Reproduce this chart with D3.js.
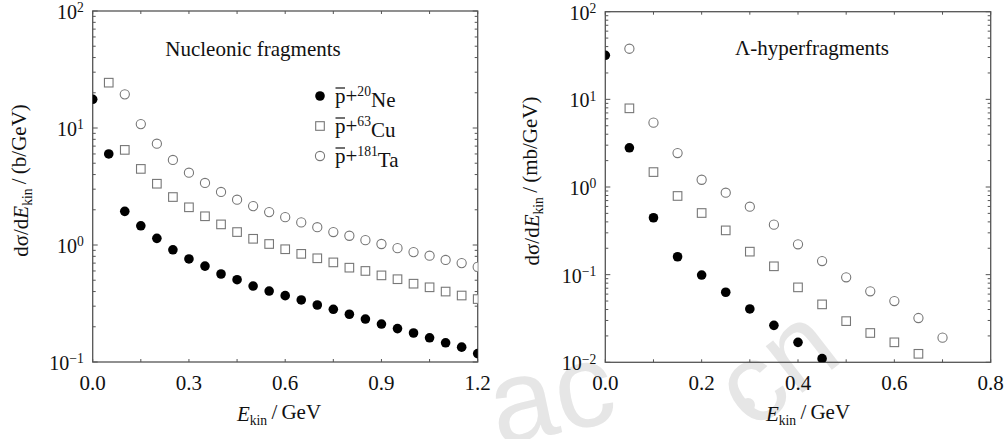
<!DOCTYPE html>
<html lang="en">
<head>
    <meta charset="UTF-8">
    <title>Fragment spectra</title>
    <script src="https://d3js.org/d3.v7.min.js"></script>
    <style>
        body { margin: 0; background: #fff; }
        svg text { font-family: "Liberation Serif", "Times New Roman", serif; fill: #111; }
    </style>
</head>
<body>
    <div id="chart"></div>
    <script>
        // x values (GeV)
        const ekinLeft = d3.range(0, 25).map(i => +(i * 0.05).toFixed(2));
        const ekinRight = d3.range(0, 15).map(i => +(i * 0.05).toFixed(2));

        // Nucleonic fragments, b/GeV
        const nucNe = [17.6, 6.0, 1.94, 1.46, 1.14, 0.91, 0.76, 0.66, 0.565, 0.505, 0.446, 0.404, 0.369,
            0.339, 0.307, 0.282, 0.256, 0.233, 0.211, 0.193, 0.177, 0.161, 0.146, 0.134, 0.118];
        const nucCu = [null, 24.4, 6.5, 4.47, 3.34, 2.57, 2.10, 1.76, 1.50, 1.29, 1.13, 1.02, 0.92,
            0.84, 0.77, 0.71, 0.64, 0.60, 0.55, 0.51, 0.467, 0.435, 0.40, 0.37, 0.345];
        const nucTa = [null, null, 19.4, 10.8, 7.34, 5.33, 4.15, 3.39, 2.84, 2.44, 2.15, 1.91, 1.73,
            1.56, 1.42, 1.29, 1.20, 1.10, 1.02, 0.94, 0.87, 0.81, 0.745, 0.70, 0.65];

        // Lambda-hyperfragments, mb/GeV
        const hypNe = [31.8, 2.8, 0.446, 0.160, 0.099, 0.063, 0.0406, 0.0264, 0.0169, 0.011,
            null, null, null, null, null];
        const hypCu = [null, 7.9, 1.48, 0.79, 0.505, 0.32, 0.183, 0.1245, 0.0716, 0.0458, 0.0295,
            0.0216, 0.0169, 0.0125, null];
        const hypTa = [null, 37.8, 5.42, 2.44, 1.21, 0.861, 0.596, 0.372, 0.222, 0.143, 0.0933,
            0.0646, 0.050, 0.032, 0.0191];

        const legendLabels = [["20", "Ne"], ["63", "Cu"], ["181", "Ta"]];
        const leftXTicks = [0, 0.3, 0.6, 0.9, 1.2];
        const rightXTicks = [0, 0.2, 0.4, 0.6, 0.8];

        const W = 1006, H = 439;
        const svg = d3.select("#chart").append("svg")
            .attr("width", W).attr("height", H);

        const frameColor = "#555";
        const openColor = "#777";

        // faint site watermark (drawn first so it sits underneath)
        const wm = svg.append("g");
        wm.append("text").attr("transform", "translate(498,446) rotate(-12)")
            .style("font-family", "Liberation Sans, sans-serif").style("font-size", "118px")
            .style("fill", "#e6e6e6").text("ac");
        wm.append("circle").attr("cx", 748).attr("cy", 405).attr("r", 7).attr("fill", "#e6e6e6");
        wm.append("text").attr("transform", "translate(752,432) rotate(-38)")
            .style("font-family", "Liberation Sans, sans-serif").style("font-size", "112px")
            .style("fill", "#e6e6e6").text("cn");

        function supLabel(sel, base, exp) {
            sel.append("tspan").text(base);
            sel.append("tspan").attr("dy", "-0.5em").style("font-size", "0.68em").text(exp);
        }

        function drawPanel(opt) {
            const x = d3.scaleLinear().domain(opt.xDomain).range([opt.x0, opt.x1]);
            const y = d3.scaleLog().domain(opt.yDomain).range([opt.y1, opt.y0]);
            const g = svg.append("g");

            const clipId = "clip" + opt.id;
            svg.append("clipPath").attr("id", clipId)
                .append("rect")
                .attr("x", opt.x0).attr("y", opt.y0)
                .attr("width", opt.x1 - opt.x0).attr("height", opt.y1 - opt.y0);

            // x ticks (top and bottom, inward)
            const xt = d3.range(opt.xDomain[0], opt.xDomain[1] + 1e-9, opt.xMinorStep);
            xt.forEach(v => {
                g.append("line").attr("x1", x(v)).attr("x2", x(v))
                    .attr("y1", opt.y1).attr("y2", opt.y1 - 3)
                    .attr("stroke", frameColor).attr("stroke-width", 1);
                g.append("line").attr("x1", x(v)).attr("x2", x(v))
                    .attr("y1", opt.y0).attr("y2", opt.y0 + 3)
                    .attr("stroke", frameColor).attr("stroke-width", 1);
            });

            // y log ticks (left and right, inward)
            const lo = Math.log10(opt.yDomain[0]), hi = Math.log10(opt.yDomain[1]);
            for (let e = lo; e <= hi; e++) {
                for (let m = 1; m <= 9; m++) {
                    const v = m * Math.pow(10, e);
                    if (v > opt.yDomain[1] * 1.0001) break;
                    const len = m === 1 ? 5 : 3;
                    g.append("line").attr("x1", opt.x0).attr("x2", opt.x0 + len)
                        .attr("y1", y(v)).attr("y2", y(v))
                        .attr("stroke", frameColor).attr("stroke-width", 1);
                    g.append("line").attr("x1", opt.x1).attr("x2", opt.x1 - len)
                        .attr("y1", y(v)).attr("y2", y(v))
                        .attr("stroke", frameColor).attr("stroke-width", 1);
                }
                const t = g.append("text")
                    .attr("x", opt.x0 - 9).attr("y", y(Math.pow(10, e)) + 8)
                    .attr("text-anchor", "end").style("font-size", "20px");
                supLabel(t, "10", e < 0 ? "\u2212" + (-e) : String(e));
            }

            // x tick labels
            opt.xTicks.forEach(v => {
                g.append("text").attr("x", x(v)).attr("y", opt.y1 + 28)
                    .attr("text-anchor", "middle").style("font-size", "21px")
                    .text(v.toFixed(1));
            });

            // frame
            g.append("rect").attr("x", opt.x0).attr("y", opt.y0)
                .attr("width", opt.x1 - opt.x0).attr("height", opt.y1 - opt.y0)
                .attr("fill", "none").attr("stroke", frameColor).attr("stroke-width", 1.3);

            // data
            const pts = g.append("g").attr("clip-path", `url(#${clipId})`);
            const mk = (vals) => opt.xs.map((xv, i) => ({ x: xv, v: vals[i] })).filter(d => d.v != null);

            pts.selectAll(null).data(mk(opt.ta)).join("circle")
                .attr("cx", d => x(d.x)).attr("cy", d => y(d.v)).attr("r", 4.6)
                .attr("fill", "#fff").attr("stroke", openColor).attr("stroke-width", 1.1);
            pts.selectAll(null).data(mk(opt.cu)).join("rect")
                .attr("x", d => x(d.x) - 4.3).attr("y", d => y(d.v) - 4.3)
                .attr("width", 8.6).attr("height", 8.6)
                .attr("fill", "#fff").attr("stroke", openColor).attr("stroke-width", 1.1);
            pts.selectAll(null).data(mk(opt.ne)).join("circle")
                .attr("cx", d => x(d.x)).attr("cy", d => y(d.v)).attr("r", 4.8)
                .attr("fill", "#000");

            // title inside panel
            g.append("text").attr("x", opt.titleX).attr("y", opt.titleY)
                .attr("text-anchor", "middle").style("font-size", "21px").text(opt.title);

            // x axis label
            const xl = g.append("text").attr("x", opt.xLabelX).attr("y", 421)
                .attr("text-anchor", "middle").style("font-size", "21px");
            xl.append("tspan").style("font-style", "italic").text("E");
            xl.append("tspan").attr("dy", "0.3em").style("font-size", "0.65em").text("kin");
            xl.append("tspan").attr("dy", "-0.3em").text("\u2009/\u2009GeV");

            // y axis label
            const yl = g.append("text")
                .attr("transform", `translate(${opt.yLabelX},${(opt.y0 + opt.y1) / 2 - 6}) rotate(-90)`)
                .attr("text-anchor", "middle").style("font-size", "21px");
            yl.append("tspan").text("d\u03c3/d");
            yl.append("tspan").style("font-style", "italic").text("E");
            yl.append("tspan").attr("dy", "0.3em").style("font-size", "0.65em").text("kin");
            yl.append("tspan").attr("dy", "-0.3em").text("\u2009/\u2009" + opt.unit);

            return { x, y, g };
        }

        drawPanel({
            id: "L", x0: 92.7, x1: 477.7, y0: 11, y1: 362,
            xDomain: [0, 1.2], yDomain: [0.1, 100], xMinorStep: 0.15, xTicks: leftXTicks,
            xs: ekinLeft, ne: nucNe, cu: nucCu, ta: nucTa,
            title: "Nucleonic fragments", titleX: 253, titleY: 56,
            xLabelX: 279, yLabelX: 28, unit: "(b/GeV)"
        });

        drawPanel({
            id: "R", x0: 605.3, x1: 990.7, y0: 11.7, y1: 362.3,
            xDomain: [0, 0.8], yDomain: [0.01, 100], xMinorStep: 0.1, xTicks: rightXTicks,
            xs: ekinRight, ne: hypNe, cu: hypCu, ta: hypTa,
            title: "\u039b-hyperfragments", titleX: 812, titleY: 55,
            xLabelX: 808, yLabelX: 539, unit: "(mb/GeV)"
        });

        // legend (left panel)
        const legY = [96, 126, 156];
        const lg = svg.append("g");
        lg.append("circle").attr("cx", 320).attr("cy", legY[0]).attr("r", 4.8).attr("fill", "#000");
        lg.append("rect").attr("x", 320 - 4.3).attr("y", legY[1] - 4.3).attr("width", 8.6).attr("height", 8.6)
            .attr("fill", "#fff").attr("stroke", openColor).attr("stroke-width", 1.1);
        lg.append("circle").attr("cx", 320).attr("cy", legY[2]).attr("r", 4.6)
            .attr("fill", "#fff").attr("stroke", openColor).attr("stroke-width", 1.1);
        legendLabels.forEach((d, i) => {
            const base = legY[i] + 7;
            const t = lg.append("text").attr("x", 335).attr("y", base).style("font-size", "21px");
            t.append("tspan").text("p");
            t.append("tspan").text("+");
            t.append("tspan").attr("dy", "-0.5em").style("font-size", "0.65em").text(d[0]);
            t.append("tspan").attr("dy", "0.5em").text(d[1]);
            // antiproton bar over the "p"
            const node = t.node();
            const p0 = node.getStartPositionOfChar(0).x, p1 = node.getEndPositionOfChar(0).x;
            lg.append("line").attr("x1", p0 + 0.5).attr("x2", p1 - 0.5)
                .attr("y1", base - 15).attr("y2", base - 15)
                .attr("stroke", "#111").attr("stroke-width", 1.2);
        });
    </script>
</body>
</html>
